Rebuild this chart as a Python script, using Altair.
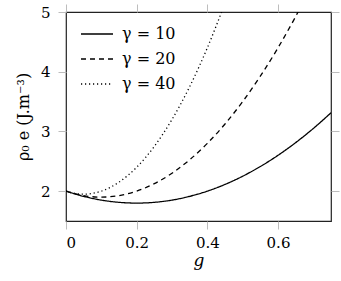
import altair as alt
import pandas as pd

# values
g_10 = [0, 0.05, 0.1, 0.15, 0.2, 0.25, 0.3, 0.35, 0.4, 0.45, 0.5, 0.55, 0.6, 0.65, 0.7, 0.75]
e_10 = [2.0, 1.9125, 1.85, 1.8125, 1.8, 1.8125, 1.85, 1.9125, 2.0, 2.1125, 2.25, 2.4125, 2.6, 2.8125, 3.05, 3.3125]

g_20 = [0, 0.05, 0.1, 0.15, 0.2, 0.25, 0.3, 0.35, 0.4, 0.45, 0.5, 0.55, 0.6, 0.65, 0.7]
e_20 = [2.0, 1.925, 1.9, 1.925, 2.0, 2.125, 2.3, 2.525, 2.8, 3.125, 3.5, 3.925, 4.4, 4.925, 5.5]

g_40 = [0, 0.025, 0.05, 0.075, 0.1, 0.15, 0.2, 0.25, 0.3, 0.35, 0.4, 0.45]
e_40 = [2.0, 1.9625, 1.95, 1.9625, 2.0, 2.15, 2.4, 2.75, 3.2, 3.75, 4.4, 5.15]

series = ["γ = 10", "γ = 20", "γ = 40"]
x_ticks = [0, 0.2, 0.4, 0.6]
y_ticks = [2, 3, 4, 5]

rows = []
for name, gs, es in zip(series, [g_10, g_20, g_40], [e_10, e_20, e_40]):
    for i, (g, e) in enumerate(zip(gs, es)):
        rows.append({"g": g, "e": e, "gamma": name, "order": i})
df = pd.DataFrame(rows)

FONT = "DejaVu Serif"
TICK = "#bdbdbd"

xscale = alt.Scale(domain=[0, 0.75], nice=False, zero=False)
yscale = alt.Scale(domain=[1.5, 5], nice=False, zero=False)

lines = alt.Chart(df).mark_line(
    color="black", strokeWidth=1.3, clip=True, interpolate="monotone"
).encode(
    x=alt.X("g:Q", scale=xscale,
            axis=alt.Axis(orient="bottom", values=x_ticks, format="~g", title="g",
                          titleFontStyle="italic", titleFontWeight="normal",
                          titleFontSize=17, titlePadding=2,
                          labelFontSize=15, labelPadding=6, tickSize=8,
                          tickColor=TICK, domain=False, grid=False,
                          labelFont=FONT, titleFont=FONT,
                          labelColor="black", titleColor="black")),
    y=alt.Y("e:Q", scale=yscale,
            axis=alt.Axis(orient="left", values=y_ticks, title="ρ₀ e (J.m⁻³)",
                          titleFontWeight="normal", titleFontSize=16, titlePadding=9,
                          labelFontSize=15, labelPadding=8, tickSize=8,
                          tickColor=TICK, domain=False, grid=False,
                          labelFont=FONT, titleFont=FONT,
                          labelColor="black", titleColor="black")),
    strokeDash=alt.StrokeDash(
        "gamma:N",
        scale=alt.Scale(domain=series, range=[[1, 0], [5, 4], [1.2, 2.8]]),
        legend=alt.Legend(
            title=None, orient="none", legendX=14, legendY=5,
            symbolType="stroke", symbolSize=1024, symbolStrokeWidth=1.3,
            symbolStrokeColor="black", labelFontSize=16, labelFont=FONT,
            labelColor="black", labelOffset=8, rowPadding=-8, padding=0,
        ),
    ),
    detail="gamma:N",
    order="order:Q",
)

frame_ticks = alt.Chart(df).mark_point(opacity=0).encode(
    x=alt.X("g:Q", scale=xscale,
            axis=alt.Axis(orient="top", values=x_ticks, labels=False, title=None,
                          tickSize=8, tickColor=TICK, domain=False, grid=False)),
    y=alt.Y("e:Q", scale=yscale,
            axis=alt.Axis(orient="right", values=y_ticks, labels=False, title=None,
                          tickSize=8, tickColor=TICK, domain=False, grid=False)),
)

chart = alt.layer(lines, frame_ticks).resolve_axis(
    x="independent", y="independent"
).properties(
    width=265, height=209,
    autosize=alt.AutoSizeParams(type="none"),
    padding={"left": 66, "top": 12, "right": 10, "bottom": 60},
).configure(
    background="white", font=FONT
).configure_view(
    stroke="#222222", strokeWidth=1.2
)

chart.save("out.html", embed_options={"renderer": "svg", "actions": False})
